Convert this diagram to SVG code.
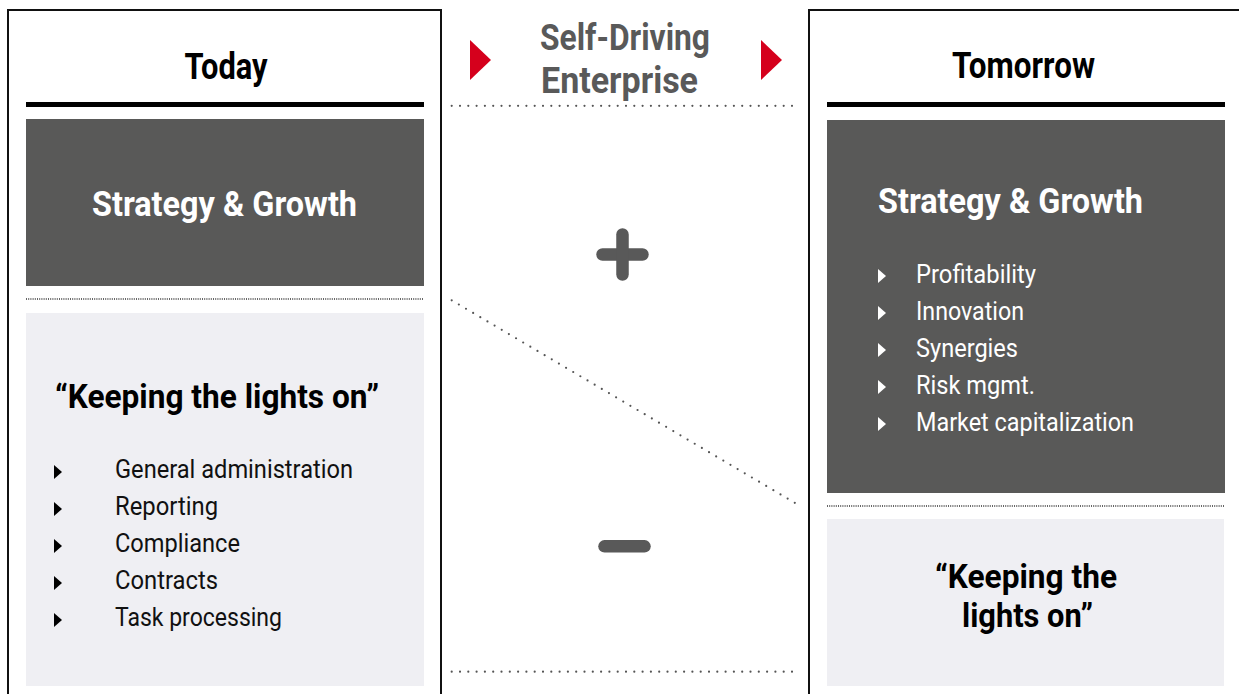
<svg xmlns="http://www.w3.org/2000/svg" width="1239" height="694" viewBox="0 0 1239 694">
<style>
  text { font-family: Roboto, "Liberation Sans", sans-serif; }
  .frame { fill: none; stroke: #111; stroke-width: 2; }
  .rule { fill: #000; }
  .dark { fill: #595958; }
  .light { fill: #efeff3; }
  .h1 { font-size: 37px; font-weight: 700; fill: #000; }
  .sg { font-size: 35px; font-weight: 700; fill: #fff; }
  .klo { font-size: 34px; font-weight: 700; fill: #000; }
  .li { font-size: 26px; font-weight: 400; fill: #111; }
  .liw { font-size: 26px; font-weight: 400; fill: #fff; }
  .mid { font-size: 37px; font-weight: 700; fill: #595959; }
  .fine { stroke: #333; stroke-width: 1.3; stroke-dasharray: 1 1.2; fill: none; }
  .dots { stroke: #555; stroke-width: 2.2; stroke-linecap: round; stroke-dasharray: 0 8.3; fill: none; }
  .red { fill: #d5001c; }
  .sym { stroke: #595959; stroke-width: 12.5; stroke-linecap: round; fill: none; }
</style>
<rect width="1239" height="694" fill="#fff"/>

<g id="today">
  <path class="frame" d="M8,700 V10 H441 V700"/>
  <text class="h1" x="226" y="79" text-anchor="middle" textLength="83" lengthAdjust="spacingAndGlyphs">Today</text>
  <rect class="rule" x="26" y="102" width="398" height="5"/>
</g>

<g id="today-strategy">
  <rect class="dark" x="26" y="119" width="398" height="167"/>
  <text class="sg" x="92" y="216" textLength="265" lengthAdjust="spacingAndGlyphs">Strategy &amp; Growth</text>
</g>

<line class="fine" x1="26" y1="299" x2="423" y2="299"/>

<g id="today-klo">
  <rect class="light" x="26" y="313" width="398" height="373"/>
  <text class="klo" x="55" y="408" textLength="324" lengthAdjust="spacingAndGlyphs">“Keeping the lights on”</text>
  <polygon points="54,465 62,472 54,479"/>
  <text class="li" x="115" y="478" textLength="238" lengthAdjust="spacingAndGlyphs">General administration</text>
  <polygon points="54,502 62,509 54,516"/>
  <text class="li" x="115" y="515" textLength="103" lengthAdjust="spacingAndGlyphs">Reporting</text>
  <polygon points="54,539 62,546 54,553"/>
  <text class="li" x="115" y="552" textLength="125" lengthAdjust="spacingAndGlyphs">Compliance</text>
  <polygon points="54,576 62,583 54,590"/>
  <text class="li" x="115" y="589" textLength="103" lengthAdjust="spacingAndGlyphs">Contracts</text>
  <polygon points="54,613 62,620 54,627"/>
  <text class="li" x="115" y="626" textLength="167" lengthAdjust="spacingAndGlyphs">Task processing</text>
</g>

<g id="self-driving">
  <polygon class="red" points="470,40 491,60 470,80"/>
  <text class="mid" x="540" y="50" textLength="170" lengthAdjust="spacingAndGlyphs">Self-Driving</text>
  <text class="mid" x="541" y="93" textLength="157" lengthAdjust="spacingAndGlyphs">Enterprise</text>
  <polygon class="red" points="761,40 782,60 761,80"/>
</g>

<g id="plus">
  <line class="sym" x1="602.5" y1="254.5" x2="642.5" y2="254.5"/>
  <line class="sym" x1="622.5" y1="234.5" x2="622.5" y2="274.5"/>
</g>

<g id="minus">
  <line class="sym" x1="604.5" y1="546.3" x2="644.5" y2="546.3"/>
</g>

<g id="connectors">
  <line class="dots" x1="451.7" y1="105.8" x2="799" y2="105.8"/>
  <line class="dots" x1="451.7" y1="300.3" x2="799" y2="505.3"/>
  <line class="dots" x1="451.7" y1="671.7" x2="799" y2="671.7"/>
</g>

<g id="tomorrow">
  <path class="frame" d="M809,700 V10 H1245"/>
  <text class="h1" x="1023.5" y="78" text-anchor="middle" textLength="143" lengthAdjust="spacingAndGlyphs">Tomorrow</text>
  <rect class="rule" x="827" y="102" width="398" height="5"/>
</g>

<g id="tomorrow-strategy">
  <rect class="dark" x="827" y="120" width="398" height="373"/>
  <text class="sg" x="878" y="213" textLength="265" lengthAdjust="spacingAndGlyphs">Strategy &amp; Growth</text>
  <polygon fill="#fff" points="878,269 886,276 878,283"/>
  <text class="liw" x="916" y="283" textLength="120" lengthAdjust="spacingAndGlyphs">Profitability</text>
  <polygon fill="#fff" points="878,306 886,313 878,320"/>
  <text class="liw" x="916" y="320" textLength="108" lengthAdjust="spacingAndGlyphs">Innovation</text>
  <polygon fill="#fff" points="878,343 886,350 878,357"/>
  <text class="liw" x="916" y="357" textLength="102" lengthAdjust="spacingAndGlyphs">Synergies</text>
  <polygon fill="#fff" points="878,380 886,387 878,394"/>
  <text class="liw" x="916" y="394" textLength="119" lengthAdjust="spacingAndGlyphs">Risk mgmt.</text>
  <polygon fill="#fff" points="878,417 886,424 878,431"/>
  <text class="liw" x="916" y="431" textLength="218" lengthAdjust="spacingAndGlyphs">Market capitalization</text>
</g>

<line class="fine" x1="827" y1="506" x2="1224" y2="506"/>

<g id="tomorrow-klo">
  <rect class="light" x="827" y="519" width="397" height="167"/>
  <text class="klo" x="935" y="588" textLength="182" lengthAdjust="spacingAndGlyphs">“Keeping the</text>
  <text class="klo" x="962" y="627" textLength="131" lengthAdjust="spacingAndGlyphs">lights on”</text>
</g>
</svg>
